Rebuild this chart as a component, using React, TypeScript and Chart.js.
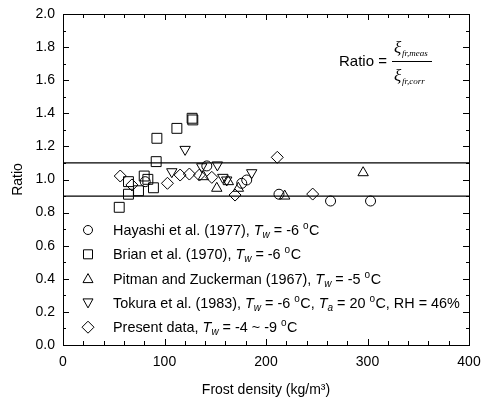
import React, { useEffect, useRef } from "react";
import { Chart, registerables } from "chart.js";

Chart.register(...registerables);

const FONT = "'Liberation Sans', Arial, Helvetica, sans-serif";
const SERIF = "'Liberation Serif', 'Times New Roman', serif";

// Data: frost density (kg/m3) vs ratio
const hayashiX = [81, 141.7, 176.1, 181, 212.8, 263.6, 303];
const hayashiY = [0.987, 1.082, 0.977, 0.997, 0.911, 0.87, 0.87];

const brianX = [55.4, 64.5, 64.5, 74.4, 80, 83.6, 89.1, 91.8, 92.5, 112.2, 127.9, 127.2];
const brianY = [0.832, 0.987, 0.911, 0.932, 1.021, 1.001, 0.95, 1.108, 1.249, 1.309, 1.36, 1.37];

const pitmanX = [138.3, 151.5, 162.9, 172.8, 218.4, 295.7];
const pitmanY = [1.017, 0.947, 0.987, 0.947, 0.9, 1.041];

const tokuraX = [107.2, 120.3, 136.7, 152.1, 157.4, 161.3, 185.9];
const tokuraY = [1.047, 1.182, 1.077, 1.088, 1.013, 0.997, 1.041];

const presentX = [56.4, 67.9, 102.9, 115.4, 124.5, 134.4, 146.6, 169.5, 211.1, 246];
const presentY = [1.021, 0.967, 0.977, 1.027, 1.033, 1.027, 1.013, 0.906, 1.134, 0.912];

const bandLines = [1.1, 0.9];
const xRange = [0, 400];
const yRange = [0, 2];

type Seg = { t: string; italic?: boolean; sub?: boolean; sup?: boolean };

const legendRows: { style: string; segs: Seg[] }[] = [
  {
    style: "circle",
    segs: [{ t: "Hayashi et al. (1977), " }, { t: "T", italic: true }, { t: "w", italic: true, sub: true }, { t: " = -6 " }, { t: "o", sup: true }, { t: "C" }],
  },
  {
    style: "rect",
    segs: [{ t: "Brian et al. (1970), " }, { t: "T", italic: true }, { t: "w", italic: true, sub: true }, { t: " = -6 " }, { t: "o", sup: true }, { t: "C" }],
  },
  {
    style: "triUp",
    segs: [{ t: "Pitman and Zuckerman (1967), " }, { t: "T", italic: true }, { t: "w", italic: true, sub: true }, { t: " = -5 " }, { t: "o", sup: true }, { t: "C" }],
  },
  {
    style: "triDown",
    segs: [
      { t: "Tokura et al. (1983), " },
      { t: "T", italic: true },
      { t: "w", italic: true, sub: true },
      { t: " = -6 " },
      { t: "o", sup: true },
      { t: "C, " },
      { t: "T", italic: true },
      { t: "a", italic: true, sub: true },
      { t: " = 20 " },
      { t: "o", sup: true },
      { t: "C, RH = 46%" },
    ],
  },
  {
    style: "diamond",
    segs: [{ t: "Present data, " }, { t: "T", italic: true }, { t: "w", italic: true, sub: true }, { t: " = -4 ~ -9 " }, { t: "o", sup: true }, { t: "C" }],
  },
];

function pts(xs: number[], ys: number[]) {
  return xs.map((x, i) => ({ x, y: ys[i] }));
}

function drawMarker(ctx: CanvasRenderingContext2D, style: string, x: number, y: number) {
  ctx.beginPath();
  if (style === "circle") {
    ctx.arc(x, y, 4.5, 0, Math.PI * 2);
  } else if (style === "rect") {
    ctx.rect(x - 4.5, y - 4.5, 9, 9);
  } else if (style === "triUp") {
    ctx.moveTo(x, y - 5);
    ctx.lineTo(x + 5, y + 4);
    ctx.lineTo(x - 5, y + 4);
    ctx.closePath();
  } else if (style === "triDown") {
    ctx.moveTo(x, y + 5);
    ctx.lineTo(x + 5, y - 4);
    ctx.lineTo(x - 5, y - 4);
    ctx.closePath();
  } else {
    ctx.moveTo(x, y - 6);
    ctx.lineTo(x + 6, y);
    ctx.lineTo(x, y + 6);
    ctx.lineTo(x - 6, y);
    ctx.closePath();
  }
  ctx.stroke();
}

function drawRich(ctx: CanvasRenderingContext2D, x: number, y: number, segs: Seg[], size: number) {
  let cx = x;
  ctx.textBaseline = "alphabetic";
  ctx.textAlign = "left";
  for (const s of segs) {
    const fs = s.sub || s.sup ? Math.round(size * 0.68) : size;
    ctx.font = `${s.italic ? "italic " : ""}${fs}px ${FONT}`;
    const dy = s.sub ? 3 : s.sup ? -6 : 0;
    ctx.fillText(s.t, cx, y + dy);
    cx += ctx.measureText(s.t).width + (s.sup ? 0.5 : 0);
  }
}

const decorPlugin = {
  id: "decor",
  afterDraw(chart: any) {
    const ctx: CanvasRenderingContext2D = chart.ctx;
    const { left, right, top, bottom } = chart.chartArea;
    const xs = chart.scales.x;
    const ys = chart.scales.y;
    ctx.save();
    ctx.strokeStyle = "#000";
    ctx.fillStyle = "#000";
    ctx.lineWidth = 1;
    // frame
    ctx.strokeRect(Math.round(left) + 0.5, Math.round(top) + 0.5, Math.round(right - left), Math.round(bottom - top));
    // inward ticks
    ctx.beginPath();
    for (let v = xRange[0]; v <= xRange[1]; v += 20) {
      const px = Math.round(xs.getPixelForValue(v)) + 0.5;
      const len = v % 100 === 0 ? 6 : 4;
      ctx.moveTo(px, bottom);
      ctx.lineTo(px, bottom - len);
      ctx.moveTo(px, top);
      ctx.lineTo(px, top + len);
    }
    for (let i = 0; i <= 20; i++) {
      const v = i / 10;
      const py = Math.round(ys.getPixelForValue(v)) + 0.5;
      const len = i % 2 === 0 ? 6 : 3;
      ctx.moveTo(left, py);
      ctx.lineTo(left + len, py);
      ctx.moveTo(right, py);
      ctx.lineTo(right - len, py);
    }
    ctx.stroke();

    // axis titles
    ctx.font = `14px ${FONT}`;
    ctx.textAlign = "center";
    ctx.textBaseline = "middle";
    ctx.fillText("Frost density (kg/m³)", (left + right) / 2, 390);
    ctx.save();
    ctx.translate(18, (top + bottom) / 2);
    ctx.rotate(-Math.PI / 2);
    ctx.fillText("Ratio", 0, 0);
    ctx.restore();

    // legend
    legendRows.forEach((row, i) => {
      const cy = 230 + i * 24.3;
      drawMarker(ctx, row.style, 88, cy);
      drawRich(ctx, 113, cy + 5, row.segs, 14.4);
    });

    // formula
    ctx.textAlign = "left";
    ctx.textBaseline = "middle";
    ctx.font = `15px ${FONT}`;
    ctx.fillText("Ratio =", 339, 62);
    ctx.beginPath();
    ctx.moveTo(392, 61.5);
    ctx.lineTo(432, 61.5);
    ctx.stroke();
    ctx.textBaseline = "alphabetic";
    ctx.font = `italic 17px ${SERIF}`;
    ctx.fillText("ξ", 394, 53);
    ctx.fillText("ξ", 394, 81);
    ctx.font = `italic 9px ${SERIF}`;
    ctx.fillText("fr,meas", 402, 56);
    ctx.fillText("fr,corr", 402, 84);
    ctx.restore();
  },
};

export default function App() {
  const ref = useRef<HTMLCanvasElement | null>(null);
  useEffect(() => {
    if (!ref.current) return;
    Chart.defaults.font.family = FONT;
    Chart.defaults.color = "#000";
    const common = {
      showLine: false,
      borderColor: "#000",
      backgroundColor: "rgba(0,0,0,0)",
      borderWidth: 1,
    };
    const chart = new Chart(ref.current, {
      type: "scatter",
      data: {
        datasets: [
          ...bandLines.map((v) => ({
            label: `band ${v}`,
            data: [
              { x: xRange[0], y: v },
              { x: xRange[1], y: v },
            ],
            showLine: true,
            borderColor: "#000",
            borderWidth: 1.2,
            pointRadius: 0,
          })),
          { ...common, label: "Hayashi", data: pts(hayashiX, hayashiY), pointStyle: "circle", pointRadius: 5 },
          { ...common, label: "Brian", data: pts(brianX, brianY), pointStyle: "rect", pointRadius: 7 },
          { ...common, label: "Pitman", data: pts(pitmanX, pitmanY), pointStyle: "triangle", pointRadius: 6 },
          {
            ...common,
            label: "Tokura",
            data: pts(tokuraX, tokuraY),
            pointStyle: "triangle",
            pointRotation: 180,
            pointRadius: 6,
          },
          { ...common, label: "Present", data: pts(presentX, presentY), pointStyle: "rectRot", pointRadius: 6 },
        ],
      } as any,
      options: {
        animation: false,
        responsive: false,
        layout: { padding: { top: 14, right: 12, left: 0, bottom: 0 } },
        plugins: { legend: { display: false }, tooltip: { enabled: false } },
        scales: {
          x: {
            type: "linear",
            min: xRange[0],
            max: xRange[1],
            afterFit: (s: any) => {
              s.height = 57;
              s.paddingLeft = 0;
              s.paddingRight = 0;
            },
            ticks: {
              stepSize: 20,
              autoSkip: false,
              maxRotation: 0,
              padding: 9,
              color: "#000",
              font: { size: 14, family: FONT },
              callback: (v: any) => (Math.round(v) % 100 === 0 ? String(Math.round(v)) : ""),
            },
            grid: { display: false, drawTicks: false },
            border: { display: false },
          },
          y: {
            type: "linear",
            min: yRange[0],
            max: yRange[1],
            afterFit: (s: any) => {
              s.width = 63;
              s.paddingTop = 0;
              s.paddingBottom = 0;
            },
            ticks: {
              stepSize: 0.1,
              autoSkip: false,
              padding: 8,
              color: "#000",
              font: { size: 14, family: FONT },
              callback: (v: any) => (Math.round(v * 10) % 2 === 0 ? Number(v).toFixed(1) : ""),
            },
            grid: { display: false, drawTicks: false },
            border: { display: false },
          },
        },
      } as any,
      plugins: [decorPlugin],
    });
    return () => chart.destroy();
  }, []);
  return (
    <div style={{ position: "fixed", left: 0, top: 0, width: 481, height: 402, background: "#fff" }}>
      <canvas ref={ref} width={481} height={402} style={{ display: "block", width: 481, height: 402 }} />
    </div>
  );
}
